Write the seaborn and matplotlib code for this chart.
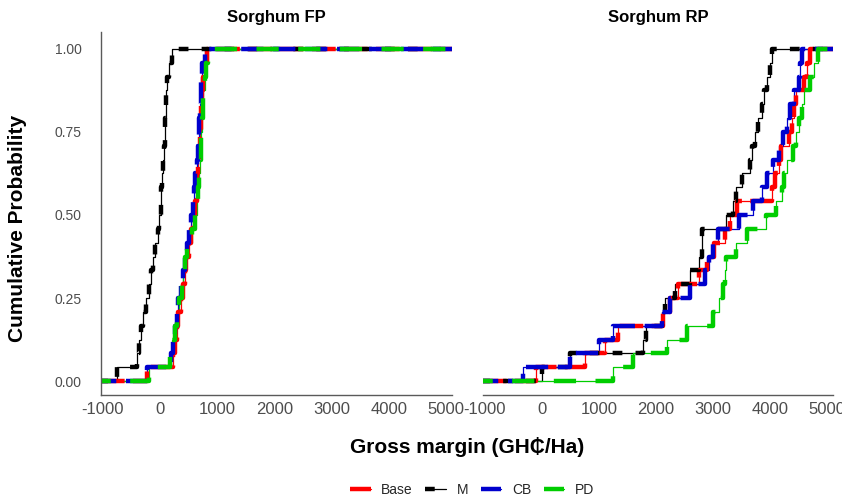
import numpy as np
import pandas as pd
import matplotlib
matplotlib.use("Agg")
import matplotlib.pyplot as plt
from matplotlib.lines import Line2D
from matplotlib.colors import to_hex
import seaborn as sns

# ---------------- data ----------------
scenarios = ["Base", "M", "CB", "PD"]
colors = ["#FF0000", "#000000", "#0000CD", "#00CD00"]
panels = ["Sorghum FP", "Sorghum RP"]

fp_base = [-220, 230, 260, 290, 320, 360, 400, 430, 460, 500, 540, 580, 615, 640, 650, 665, 685, 700, 710, 720, 730, 760, 790, 820]
fp_m = [-750, -400, -360, -330, -300, -250, -200, -160, -120, -80, -40, -10, 10, 25, 35, 50, 65, 80, 90, 100, 110, 120, 160, 210]
fp_cb = [-230, 200, 230, 260, 290, 320, 360, 400, 440, 480, 510, 540, 570, 600, 620, 640, 660, 680, 690, 700, 710, 720, 740, 780]
fp_pd = [-200, 170, 210, 260, 300, 340, 380, 410, 440, 470, 560, 620, 650, 670, 690, 700, 710, 720, 740, 750, 760, 780, 810, 840]

rp_base = [-100, 750, 1100, 1330, 2120, 2240, 2380, 2760, 2900, 3020, 3200, 3300, 3410, 4040, 4080, 4150, 4190, 4330, 4380, 4420, 4460, 4600, 4650, 4700]
rp_m = [0, 490, 1770, 1830, 2100, 2150, 2330, 2590, 2760, 2800, 2810, 3230, 3340, 3400, 3500, 3640, 3690, 3740, 3780, 3860, 3900, 3950, 4000, 4040]
rp_cb = [-330, 500, 1010, 1240, 2100, 2240, 2600, 2850, 2920, 3000, 3080, 3450, 3700, 3850, 3950, 4050, 4150, 4230, 4300, 4350, 4420, 4500, 4530, 4560]
rp_pd = [1240, 1590, 2200, 2550, 3000, 3100, 3180, 3200, 3220, 3400, 3600, 3930, 4100, 4200, 4250, 4300, 4400, 4460, 4500, 4550, 4600, 4700, 4760, 4830]

xticks = [-1000, 0, 1000, 2000, 3000, 4000, 5000]
yticks = [0.0, 0.25, 0.50, 0.75, 1.00]
ytick_labels = ["0.00", "0.25", "0.50", "0.75", "1.00"]

series = {
    ("Sorghum FP", "Base"): fp_base, ("Sorghum FP", "M"): fp_m,
    ("Sorghum FP", "CB"): fp_cb, ("Sorghum FP", "PD"): fp_pd,
    ("Sorghum RP", "Base"): rp_base, ("Sorghum RP", "M"): rp_m,
    ("Sorghum RP", "CB"): rp_cb, ("Sorghum RP", "PD"): rp_pd,
}
df = pd.DataFrame(
    [(p, s, v) for (p, s), vals in series.items() for v in vals],
    columns=["panel", "scenario", "value"],
)

# ---------------- style ----------------
sns.set_theme(style="white")
plt.rcParams["font.family"] = ["Liberation Sans", "DejaVu Sans"]
plt.rcParams["lines.scale_dashes"] = False

# dash patterns (points) per scenario for the thick overlay
dash_styles = {
    "Base": (0.0, (17.0, 6.0)),
    "M": (2.0, (7.0, 9.5)),
    "CB": (5.0, (16.0, 7.0)),
    "PD": (9.0, (16.0, 14.0)),
}

W, H = 842, 500
fig = plt.figure(figsize=(W / 100, H / 100), dpi=100)


def rect(x0, y0, x1, y1):
    return [x0 / W, 1 - y1 / H, (x1 - x0) / W, (y1 - y0) / H]


ax1 = fig.add_axes(rect(101, 32, 452, 395))
ax2 = fig.add_axes(rect(483, 32, 833, 395))
axes = [ax1, ax2]

XMIN, XMAX = -1030, 5100
YMIN, YMAX = -0.042, 1.051

legend_handles = {}
for ax, panel in zip(axes, panels):
    sub = df[df["panel"] == panel]
    thin_lines, thick_lines = {}, {}
    # thin layer
    for scen, col in zip(scenarios, colors):
        d = sub[sub["scenario"] == scen]
        n0 = len(ax.lines)
        sns.ecdfplot(data=d, x="value", color=col, linewidth=0.9, ax=ax)
        thin_lines[scen] = ax.lines[n0]
    # thick dashed layer
    for scen, col in zip(scenarios, colors):
        d = sub[sub["scenario"] == scen]
        n0 = len(ax.lines)
        sns.ecdfplot(data=d, x="value", color=col, linewidth=3.2, ax=ax)
        ln = ax.lines[n0]
        ln.set_linestyle(dash_styles[scen])
        ln.set_dash_capstyle("butt")
        thick_lines[scen] = ln
    ax.set_xlim(XMIN, XMAX)
    ax.set_ylim(YMIN, YMAX)
    # pad the ECDF steps to the panel edges (like stat_ecdf pad=TRUE)
    for ln in ax.lines:
        x = np.asarray(ln.get_xdata(), dtype=float)
        y = np.asarray(ln.get_ydata(), dtype=float)
        x = np.where(np.isneginf(x), XMIN, x)
        ln.set_data(np.r_[x, XMAX], np.r_[y, y[-1]])
    if ax is ax1:
        legend_handles = {s: (thin_lines[s], thick_lines[s]) for s in scenarios}

    ax.set_title(panel, fontsize=12, fontweight="bold", pad=7, color="black")
    ax.set_xticks(xticks)
    ax.set_xticklabels([str(t) for t in xticks])
    ax.set_xlabel("")
    ax.set_ylabel("")
    ax.tick_params(axis="x", length=0, pad=5, labelsize=12, labelcolor="#4D4D4D")
    for side in ["top", "right"]:
        ax.spines[side].set_visible(False)
    ax.spines["bottom"].set_color("#5A5A5A")
    ax.spines["bottom"].set_linewidth(1.0)
    ax.grid(False)

ax1.set_yticks(yticks)
ax1.set_yticklabels(ytick_labels)
ax1.tick_params(axis="y", length=0, pad=14, labelsize=10, labelcolor="#4D4D4D")
ax1.spines["left"].set_color("#5A5A5A")
ax1.spines["left"].set_linewidth(1.0)

ax2.set_yticks(yticks)
ax2.tick_params(axis="y", length=0, labelleft=False)
ax2.spines["left"].set_visible(False)

fig.text(18 / W, 1 - 228 / H, "Cumulative Probability", rotation=90,
         ha="center", va="center", fontsize=15, fontweight="bold", color="black")

fig.text(467 / W, 1 - 447 / H, "Gross margin (GH\u20b5/Ha)", ha="center", va="center",
         fontsize=15, fontweight="bold", color="black")

leg = fig.legend(
    [legend_handles[s] for s in scenarios], scenarios,
    loc="center", bbox_to_anchor=(472 / W, 1 - 490 / H), ncol=4, frameon=False,
    fontsize=10, handlelength=1.5, handletextpad=0.75, columnspacing=0.9,
)
# legend keys: thick solid for Base/CB/PD, dash + thin line for M
for ln in leg.findobj(Line2D):
    if ln.get_linewidth() > 2:
        if to_hex(ln.get_color()) == "#000000":
            ln.set_linestyle((0, (7.0, 9.5)))
        else:
            ln.set_linestyle("-")
            ln.set_solid_capstyle("butt")

fig.savefig("out.png", dpi=100)
